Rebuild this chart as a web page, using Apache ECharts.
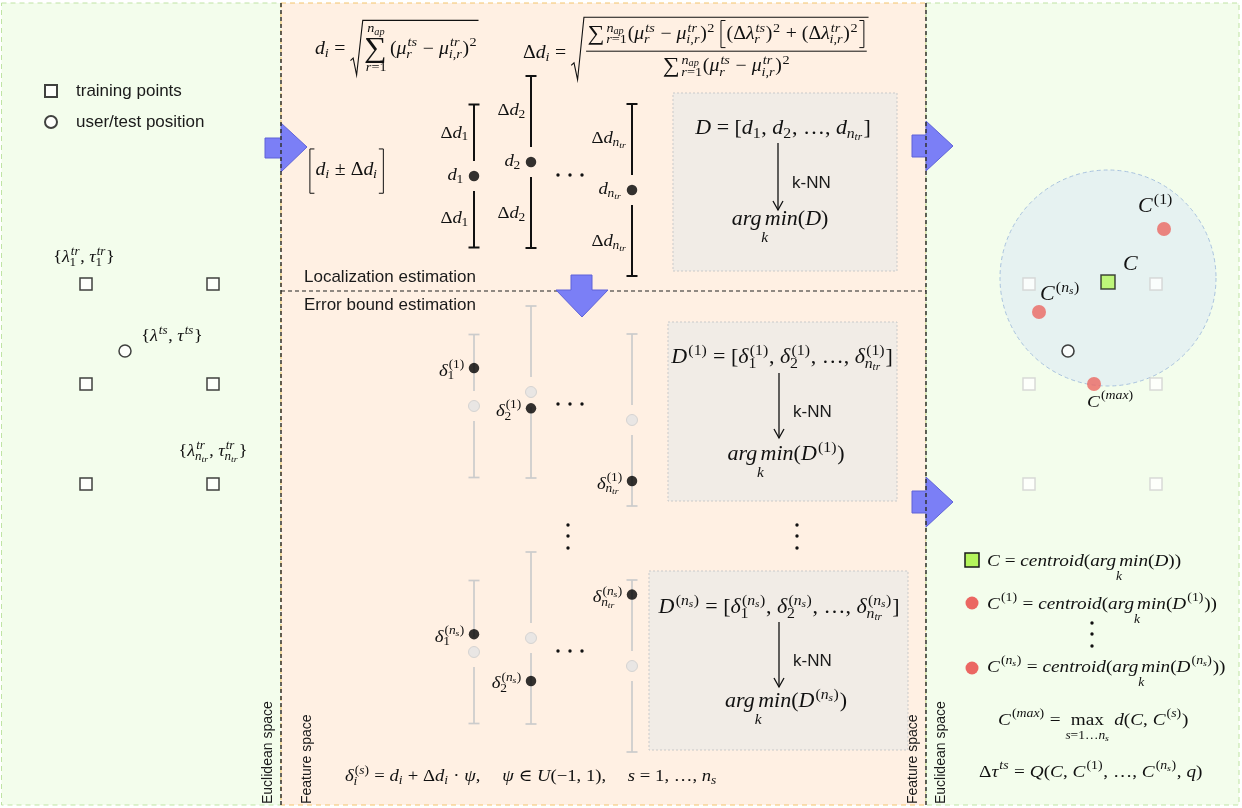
<!DOCTYPE html>
<html><head><meta charset="utf-8">
<script src="https://cdn.jsdelivr.net/npm/echarts@6/dist/echarts.min.js"></script>
<style>html,body{margin:0;padding:0;background:#fff}#c{width:1242px;height:808px}</style>
</head><body><div id="c"></div>
<script>
// ---------------- DATA ----------------
// Euclidean space: training-point grid (columns / rows) and the user/test position
const trainCols = [86, 213];
const trainRows = [284, 384, 484];
const testPoint = [125, 351];
// Feature space: distance d_i and uncertainty Δd_i for i = 1, 2, n_tr
const featureLabels = ['1', '2', 'n_{tr}'];
const featureX = [474, 531, 632];
const distances = [176, 162, 190];
const distErrors = [71.5, 86, 86];
// Error-bound sampling rounds s = 1 and s = n_s with drawn ψ values
const sampleRounds = ['(1)', '(n_s)'];
const roundShift = [230, 476];
const psiRound1 = [-0.53, 0.19, 0.71];
const psiRoundNs = [-0.25, 0.50, -0.83];
// Euclidean space (right): centroid C and sampled centroids C(1), C(ns), C(max)
const euclidShift = 943;
const centroidC = [1108, 282];
const centroidSamples = [[1164, 229], [1039, 312], [1094, 384]];
const boundCenter = [1108, 278];
const boundRadius = 108;

// ---------------- MATH TEXT ENGINE ----------------
const SERIF = "'Liberation Serif', 'DejaVu Serif', serif";
const SANS = "'Liberation Sans', Arial, sans-serif";
const HX = 1.1; // horizontal widening of glyphs
const mctx = document.createElement('canvas').getContext('2d');
const fnt = (s, it) => (it ? 'italic ' : '') + s.toFixed(2) + 'px ' + SERIF;
const mw = (t, s, it) => { mctx.font = fnt(s, it); return mctx.measureText(t).width * HX; };
const isIt = c => /[A-Za-z\u03b1-\u03c9]/.test(c);
const SCR = 0.72;

function parseTex(src) {
  let i = 0;
  function readCmd() {
    i++;
    let name = '';
    while (i < src.length && /[a-zA-Z]/.test(src[i])) name += src[i++];
    if (!name) { const c = src[i++]; if (c === ',') return {type:'space', em:0.17}; return {type:'char', c}; }
    return name;
  }
  function command(name) {
    if (typeof name !== 'string') return name;
    switch (name) {
      case 'frac': return {type:'frac', num: parseArg(), den: parseArg()};
      case 'sqrt': return {type:'sqrt', body: parseArg()};
      case 'rm': return {type:'rm', body: parseArg()};
      case 'under': return {type:'under', base: parseArg(), below: parseArg()};
      case 'br': return {type:'br', body: parseArg(), pad: 0.12};
      case 'Br': return {type:'br', body: parseArg(), pad: 0.75};
      case 'dsum': return {type:'bigop', c:'\u2211', display:true};
      case 'sum': return {type:'bigop', c:'\u2211', display:false};
      case 'q': return {type:'space', em:1};
      default: return {type:'char', c:name};
    }
  }
  function parseArg() {
    while (src[i] === ' ') i++;
    if (src[i] === '{') { i++; return {type:'group', body: parseList()}; }
    if (src[i] === '\\') return command(readCmd());
    return {type:'char', c: src[i++]};
  }
  function parseList() {
    const list = [];
    while (i < src.length) {
      const c = src[i];
      if (c === '}') { i++; break; }
      if (c === '{') { i++; list.push({type:'group', body: parseList()}); continue; }
      if (c === '_' || c === '^') {
        i++;
        const arg = parseArg();
        let last = list[list.length - 1];
        if (!last || last.type !== 'script') {
          const base = list.length ? list.pop() : {type:'group', body:[]};
          last = {type:'script', base, sub:null, sup:null};
          list.push(last);
        }
        if (c === '_') last.sub = arg; else last.sup = arg;
        continue;
      }
      if (c === '\\') { list.push(command(readCmd())); continue; }
      list.push({type:'char', c}); i++;
    }
    return list;
  }
  return {type:'group', body: parseList()};
}
function mv(items, dx, dy) {
  return items.map(o => {
    const c = Object.assign({}, o);
    if (c.t === 'text') { c.x += dx; c.y += dy; }
    else if (c.t === 'line') { c.x1 += dx; c.x2 += dx; c.y1 += dy; c.y2 += dy; }
    else if (c.t === 'poly') { c.pts = c.pts.map(p => [p[0] + dx, p[1] + dy]); }
    return c;
  });
}
function lastItalic(b) { for (let k = b.items.length - 1; k >= 0; k--) if (b.items[k].t === 'text') return b.items[k].it; return false; }
function layList(nodes, S, rm) {
  let x = 0, up = 0.42 * S, dn = 0.42 * S; const items = [];
  let run = '', runIt = false;
  const flush = () => { if (!run) return; items.push({t:'text', x, y:0, s:run, size:S, it:runIt}); x += mw(run, S, runIt); run = ''; };
  for (const n of nodes) {
    if (n.type === 'char') { const it = !rm && isIt(n.c); if (run && it !== runIt) flush(); runIt = it; run += n.c; continue; }
    flush();
    const b = lay(n, S, rm);
    items.push(...mv(b.items, x, 0)); x += b.w; up = Math.max(up, b.up); dn = Math.max(dn, b.dn);
  }
  flush();
  return {w:x, up, dn, items};
}
function layScript(n, S, rm) {
  const ss = Math.max(SCR * S, 9);
  const base = lay(n.base, S, rm);
  const sup = n.sup ? lay(n.sup, ss, rm) : null;
  const sub = n.sub ? lay(n.sub, ss, rm) : null;
  let items = base.items.slice(), up = base.up, dn = base.dn;
  if (n.base.type === 'bigop' && n.base.display) {
    const W = Math.max(base.w, sup ? sup.w : 0, sub ? sub.w : 0);
    items = mv(base.items, (W - base.w) / 2, 0);
    if (sup) { const y = -(base.up + 0.08 * S + sup.dn); items.push(...mv(sup.items, (W - sup.w) / 2, y)); up = -y + sup.up; }
    if (sub) { const y = base.dn + 0.08 * S + sub.up; items.push(...mv(sub.items, (W - sub.w) / 2, y)); dn = y + sub.dn; }
    return {w: W + 0.1 * S, up, dn, items};
  }
  const li = lastItalic(base);
  let ext = base.w;
  if (sup) {
    const supY = -Math.max(0.36 * S, base.up - 0.22 * ss);
    const sx = base.w + (li ? 0.06 * S : 0.03 * S);
    items.push(...mv(sup.items, sx, supY)); ext = Math.max(ext, sx + sup.w); up = Math.max(up, -supY + sup.up);
  }
  if (sub) {
    let subY = Math.max(0.22 * S, base.dn - 0.25 * ss); if (sup) subY = Math.max(subY, 0.3 * S);
    const sx = base.w + (li ? -0.01 * S : 0.02 * S);
    items.push(...mv(sub.items, sx, subY)); ext = Math.max(ext, sx + sub.w); dn = Math.max(dn, subY + sub.dn);
  }
  return {w: ext + 0.04 * S, up, dn, items};
}
function lay(n, S, rm) {
  switch (n.type) {
    case 'group': return layList(n.body, S, rm);
    case 'char': return layList([n], S, rm);
    case 'rm': return lay(n.body, S, true);
    case 'space': return {w: n.em * S, up: 0, dn: 0, items: []};
    case 'bigop': {
      const B = n.display ? 1.6 * S : 1.2 * S;
      return {w: mw(n.c, B, false) + 0.08 * S, up: 0.4 * B, dn: 0.4 * B, items: [{t:'text', x:0, y:0, s:n.c, size:B, it:false}]};
    }
    case 'script': return layScript(n, S, rm);
    case 'frac': {
      const a = lay(n.num, S, rm), b = lay(n.den, S, rm);
      const W = Math.max(a.w, b.w) + 0.24 * S, ax = -0.1 * S, g = 0.2 * S;
      const ny = ax - g - a.dn, dy = ax + g + b.up;
      return {w: W, up: -ny + a.up, dn: dy + b.dn, items: [...mv(a.items, (W - a.w) / 2, ny), ...mv(b.items, (W - b.w) / 2, dy),
        {t:'line', x1: 0.04 * S, y1: ax, x2: W - 0.04 * S, y2: ax, w: 1}]};
    }
    case 'sqrt': {
      const b = lay(n.body, S, rm);
      const top = -(b.up + 0.18 * S), bot = b.dn + 0.12 * S, H = bot - top;
      const sw = 0.5 * S + 0.06 * H;
      const ty = bot - Math.min(0.3 * H, 0.9 * S);
      const ex = sw + 0.08 * S + b.w + 0.06 * S;
      return {w: ex + 0.08 * S, up: -top + 1, dn: bot, items: [
        {t:'poly', pts:[[0, ty + 0.1 * S], [0.22 * sw, ty - 0.04 * S], [0.5 * sw, bot], [sw, top], [ex, top]], w: 1.1},
        ...mv(b.items, sw + 0.08 * S, 0)]};
    }
    case 'br': {
      const b = lay(n.body, S, rm);
      const p = n.pad * S, top = -(b.up + p), bot = b.dn + p, bw = 0.25 * S;
      const lx = 0.05 * S, bx = lx + bw + 0.06 * S, rx = bx + b.w + 0.06 * S + bw;
      return {w: rx + 0.08 * S, up: -top, dn: bot, items: [
        {t:'poly', pts:[[lx + bw, top], [lx, top], [lx, bot], [lx + bw, bot]], w: 1},
        ...mv(b.items, bx, 0),
        {t:'poly', pts:[[rx - bw, top], [rx, top], [rx, bot], [rx - bw, bot]], w: 1}]};
    }
    case 'under': {
      const a = lay(n.base, S, rm), k = lay(n.below, Math.max(0.7 * S, 8), rm);
      const W = Math.max(a.w, k.w);
      const ky = 0.42 * S + 0.2 * S + k.up;
      return {w: W, up: a.up, dn: ky + k.dn, items: [...mv(a.items, (W - a.w) / 2, 0), ...mv(k.items, (W - k.w) / 2, ky)]};
    }
  }
  return {w:0, up:0, dn:0, items:[]};
}
const G = [];
function tex(src, x, y, S, align, color) {
  color = color || '#111';
  const box = lay(parseTex(src), S, false);
  const x0 = align === 'center' ? x - box.w / 2 : align === 'right' ? x - box.w : x;
  for (const o of box.items) {
    if (o.t === 'text') G.push({type:'text', x: x0 + o.x, y: y + o.y, scaleX: HX, z: 50, silent: true,
      style: {text: o.s, font: fnt(o.size, o.it), fill: color, align: 'left', verticalAlign: 'middle'}});
    else if (o.t === 'line') G.push({type:'line', z: 50, silent: true, shape: {x1: x0 + o.x1, y1: y + o.y1, x2: x0 + o.x2, y2: y + o.y2}, style: {stroke: color, lineWidth: o.w}});
    else G.push({type:'polyline', z: 50, silent: true, shape: {points: o.pts.map(p => [x0 + p[0], y + p[1]])}, style: {stroke: color, fill: 'none', lineWidth: o.w}});
  }
  return box;
}
function sans(text, x, y, size, opt) {
  opt = opt || {};
  G.push({type:'text', x, y, z: 50, silent: true, rotation: opt.rot || 0,
    style: {text, font: size + 'px ' + SANS, fill: '#1a1a1a', align: opt.align || 'left', verticalAlign: 'middle'}});
}

// ---------------- SERIES DATA ----------------
const leftTrain = [];
trainRows.forEach(y => trainCols.forEach(x => leftTrain.push([x, y])));
const rightTrain = leftTrain.map(p => [p[0] + euclidShift, p[1]]);
const rightTest = [[testPoint[0] + euclidShift, testPoint[1]]];
const psiRounds = [psiRound1, psiRoundNs];
const barData = [], grayCenters = [], blackDots = [];
featureX.forEach((x, i) => { barData.push([x, distances[i], distErrors[i], 0]); blackDots.push([x, distances[i]]); });
roundShift.forEach((sh, r) => featureX.forEach((x, i) => {
  const c = distances[i] + sh;
  barData.push([x, c, distErrors[i], 1]);
  grayCenters.push([x, c]);
  blackDots.push([x, c + distErrors[i] * psiRounds[r][i]]);
}));

const chart = echarts.init(document.getElementById('c'), null, {renderer: 'canvas'});
const noHover = {emphasis: {disabled: true}, silent: true};
chart.setOption({
  animation: false,
  grid: {left: 0, right: 0, top: 0, bottom: 0},
  xAxis: {type: 'value', min: 0, max: 1242, show: false},
  yAxis: {type: 'value', min: 0, max: 808, inverse: true, show: false},
  legend: {data: ['training points', 'user/test position'], orient: 'vertical', left: 44, top: 81, padding: 0,
    itemWidth: 12, itemHeight: 12, itemGap: 11, selectedMode: false,
    textStyle: {fontFamily: SANS, fontSize: 17, color: '#1a1a1a', lineHeight: 20, padding: [0, 0, 0, 14]}},
  series: [
    Object.assign({type: 'custom', name: 'bound', z: 3, clip: false, data: [[boundCenter[0], boundCenter[1], boundRadius]],
      encode: {x: 0, y: 1},
      renderItem: (params, api) => {
        const p = api.coord([api.value(0), api.value(1)]);
        const r = api.size([api.value(2), 0])[0];
        return {type: 'circle', shape: {cx: p[0], cy: p[1], r}, style: {fill: '#e6f2f1', stroke: '#a9c3df', lineWidth: 1, lineDash: [4, 3]}};
      }}, noHover),
    Object.assign({type: 'custom', name: 'error bars', z: 3, clip: false, data: barData, encode: {x: 0, y: 1},
      renderItem: (params, api) => {
        const x = api.value(0), c = api.value(1), h = api.value(2), kind = api.value(3);
        const pc = api.coord([x, c]), pt = api.coord([x, c - h]), pb = api.coord([x, c + h]);
        const style = {stroke: kind ? '#cccccc' : '#111111', lineWidth: kind ? 1.7 : 2, fill: null};
        const cw = 5.5, gap = 15;
        return {type: 'group', children: [
          {type: 'line', shape: {x1: pc[0], y1: pt[1], x2: pc[0], y2: pc[1] - gap}, style},
          {type: 'line', shape: {x1: pc[0], y1: pc[1] + gap, x2: pc[0], y2: pb[1]}, style},
          {type: 'line', shape: {x1: pc[0] - cw, y1: pt[1], x2: pc[0] + cw, y2: pt[1]}, style},
          {type: 'line', shape: {x1: pc[0] - cw, y1: pb[1], x2: pc[0] + cw, y2: pb[1]}, style}]};
      }}, noHover),
    Object.assign({type: 'scatter', name: 'training points', z: 4, data: leftTrain, symbol: 'rect', symbolSize: 12,
      itemStyle: {color: '#ffffff', borderColor: '#111111', borderWidth: 1.5}}, noHover),
    Object.assign({type: 'scatter', name: 'user/test position', z: 4, data: [testPoint], symbol: 'circle', symbolSize: 12,
      itemStyle: {color: '#ffffff', borderColor: '#111111', borderWidth: 1.5}}, noHover),
    Object.assign({type: 'scatter', name: 'training (euclidean)', z: 4, data: rightTrain, symbol: 'rect', symbolSize: 12,
      itemStyle: {color: '#ffffff', borderColor: '#d0d0d0', borderWidth: 1.5}}, noHover),
    Object.assign({type: 'scatter', name: 'test (euclidean)', z: 4, data: rightTest, symbol: 'circle', symbolSize: 12,
      itemStyle: {color: '#ffffff', borderColor: '#111111', borderWidth: 1.6}}, noHover),
    Object.assign({type: 'scatter', name: 'd_i centres', z: 4, data: grayCenters, symbol: 'circle', symbolSize: 11,
      itemStyle: {color: '#e3e3e3', borderColor: '#cdcdcd', borderWidth: 1}}, noHover),
    Object.assign({type: 'scatter', name: 'samples', z: 5, data: blackDots, symbol: 'circle', symbolSize: 10.5,
      itemStyle: {color: '#000000'}}, noHover),
    Object.assign({type: 'scatter', name: 'C', z: 5, data: [centroidC], symbol: 'rect', symbolSize: 14,
      itemStyle: {color: '#b4f55c', borderColor: '#1a1a1a', borderWidth: 1.5}}, noHover),
    Object.assign({type: 'scatter', name: 'C(s)', z: 5, data: centroidSamples, symbol: 'circle', symbolSize: 14,
      itemStyle: {color: '#eb6762'}}, noHover)
  ]
});

// ---------------- LAYOUT GRAPHICS ----------------
const px = p => chart.convertToPixel({gridIndex: 0}, p);
const GREEN = '#f3fdec', PEACH = '#fff0e3';
G.push(
  {type: 'rect', z: 0, silent: true, shape: {x: 1.5, y: 3, width: 279.5, height: 802}, style: {fill: GREEN, stroke: '#bfe3a4', lineWidth: 1, lineDash: [5, 4]}},
  {type: 'rect', z: 0, silent: true, shape: {x: 281, y: 3, width: 645, height: 802}, style: {fill: PEACH, stroke: '#f4c46c', lineWidth: 1, lineDash: [5, 4]}},
  {type: 'rect', z: 0, silent: true, shape: {x: 926, y: 3, width: 313, height: 802}, style: {fill: GREEN, stroke: '#bfe3a4', lineWidth: 1, lineDash: [5, 4]}},
  {type: 'rect', z: 1, silent: true, shape: {x: 673, y: 93, width: 224, height: 178}, style: {fill: '#f1ece6', stroke: '#c9c9c9', lineWidth: 1, lineDash: [2, 2]}},
  {type: 'rect', z: 1, silent: true, shape: {x: 668, y: 322, width: 229, height: 179}, style: {fill: '#f1ece6', stroke: '#c9c9c9', lineWidth: 1, lineDash: [2, 2]}},
  {type: 'rect', z: 1, silent: true, shape: {x: 649, y: 571, width: 259, height: 179}, style: {fill: '#f1ece6', stroke: '#c9c9c9', lineWidth: 1, lineDash: [2, 2]}}
);
const arrowStyle = {fill: '#7b7ff6', stroke: '#5f63d8', lineWidth: 1};
[[[265,138],[281,138],[281,123],[307,147],[281,172],[281,158],[265,158]],
 [[912,135],[926,135],[926,121],[953,146],[926,171],[926,157],[912,157]],
 [[912,491],[926,491],[926,477],[953,502],[926,527],[926,513],[912,513]]].forEach(pts =>
  G.push({type: 'polygon', z: 6, silent: true, shape: {points: pts}, style: arrowStyle}));
[[281, 3, 281, 805], [926, 3, 926, 805]].forEach(l =>
  G.push({type: 'line', z: 7, silent: true, shape: {x1: l[0], y1: l[1], x2: l[2], y2: l[3]}, style: {stroke: '#333', lineWidth: 1.5, lineDash: [4, 3]}}));
G.push({type: 'line', z: 7, silent: true, shape: {x1: 281, y1: 291, x2: 926, y2: 291}, style: {stroke: '#222', lineWidth: 1.2, lineDash: [4, 3]}});
G.push({type: 'polygon', z: 8, silent: true, shape: {points: [[571,275],[592,275],[592,290],[608,290],[582,317],[556,290],[571,290]]}, style: arrowStyle});

// k-NN arrows
[[778, 143, 210], [779, 373, 438], [779, 622, 687]].forEach(a => {
  G.push({type: 'line', z: 50, silent: true, shape: {x1: a[0], y1: a[1], x2: a[0], y2: a[2]}, style: {stroke: '#111', lineWidth: 1.3}});
  G.push({type: 'polyline', z: 50, silent: true, shape: {points: [[a[0] - 5, a[2] - 9], [a[0], a[2]], [a[0] + 5, a[2] - 9]]}, style: {stroke: '#111', fill: 'none', lineWidth: 1.3}});
  sans('k-NN', a[0] + 14, (a[1] + a[2]) / 2 + 7, 17);
});
// ellipsis dots
const dot = (x, y) => G.push({type: 'circle', z: 50, silent: true, shape: {cx: x, cy: y, r: 1.7}, style: {fill: '#111'}});
[175, 404, 651].forEach(y => [558, 570, 582].forEach(x => dot(x, y)));
[525, 536, 548].forEach(y => { dot(568, y); dot(797, y); dot(1092, y + 98); });

// section texts
sans('Localization estimation', 304, 277, 17);
sans('Error bound estimation', 304, 305, 17);
sans('Euclidean space', 268, 804, 14, {rot: Math.PI / 2});
sans('Feature space', 307, 804, 14, {rot: Math.PI / 2});
sans('Feature space', 913, 804, 14, {rot: Math.PI / 2});
sans('Euclidean space', 941, 804, 14, {rot: Math.PI / 2});

// formulas (top)
tex(String.raw`d_i = \sqrt{\dsum_{r=1}^{n_{ap}}(μ_r^{ts} − μ_{i,r}^{tr})^2}`, 315, 49, 18, 'left');
tex(String.raw`Δd_i = \sqrt{\frac{\sum_{r=1}^{n_{ap}}(μ_r^{ts} − μ_{i,r}^{tr})^2 \br{(Δλ_r^{ts})^2 + (Δλ_{i,r}^{tr})^2}}{\sum_{r=1}^{n_{ap}}(μ_r^{ts} − μ_{i,r}^{tr})^2}}`, 523, 53, 18, 'left');
tex(String.raw`\Br{d_i ± Δd_i}`, 309, 170, 18, 'left');

// error-bar labels from the data
const LS = 17;
featureX.forEach((x, i) => {
  const d = distances[i], h = distErrors[i], lab = featureLabels[i];
  const pd = px([x, d]), pu = px([x, d - 0.6 * h]), pl = px([x, d + 0.6 * h]);
  tex('d_{' + lab + '}', pd[0] - 10, pd[1], LS, 'right');
  tex('Δd_{' + lab + '}', pu[0] - 5, pu[1], LS, 'right');
  tex('Δd_{' + lab + '}', pl[0] - 5, pl[1], LS, 'right');
  roundShift.forEach((sh, r) => {
    const p = px([x, d + sh + h * psiRounds[r][i]]);
    tex('δ_{' + lab + '}^{' + sampleRounds[r] + '}', p[0] - 9, p[1] + 3, LS, 'right');
  });
});

// boxes
const BS = 20;
tex(String.raw`D = [d_1, d_2, …, d_{n_{tr}}]`, 783, 129, BS, 'center');
tex(String.raw`\under{arg\,min}{k}(D)`, 780, 220, BS, 'center');
tex(String.raw`D^{(1)} = [δ_1^{(1)}, δ_2^{(1)}, …, δ_{n_{tr}}^{(1)}]`, 782, 358, BS, 'center');
tex(String.raw`\under{arg\,min}{k}(D^{(1)})`, 786, 455, BS, 'center');
tex(String.raw`D^{(n_s)} = [δ_1^{(n_s)}, δ_2^{(n_s)}, …, δ_{n_{tr}}^{(n_s)}]`, 779, 608, BS, 'center');
tex(String.raw`\under{arg\,min}{k}(D^{(n_s)})`, 786, 702, BS, 'center');
tex(String.raw`δ_i^{(s)} = d_i + Δd_i · ψ,\q ψ ∈ U(−1, 1),\q s = 1, …, n_s`, 345, 777, 17, 'left');

// left panel labels (relative to the points)
const pTr1 = px([trainCols[0], trainRows[0]]), pTrN = px([trainCols[1], trainRows[2]]), pTs = px(testPoint);
tex(String.raw`\{λ_1^{tr}, τ_1^{tr}\}`, pTr1[0] - 2, pTr1[1] - 26, 16.5, 'center');
tex(String.raw`\{λ^{ts}, τ^{ts}\}`, pTs[0] + 47, pTs[1] - 14, 16.5, 'center');
tex(String.raw`\{λ_{n_{tr}}^{tr}, τ_{n_{tr}}^{tr}\}`, pTrN[0], pTrN[1] - 32, 16.5, 'center');

// right panel labels
const pC = px(centroidC), pC1 = px(centroidSamples[0]), pCn = px(centroidSamples[1]), pCm = px(centroidSamples[2]);
tex('C^{(1)}', pC1[0] - 26, pC1[1] - 22, 20, 'left');
tex('C', pC[0] + 15, pC[1] - 17, 20, 'left');
tex('C^{(n_s)}', pCn[0] + 1, pCn[1] - 17, 20, 'left');
tex('C^{(max)}', pCm[0] - 7, pCm[1] + 18, 17.5, 'left');

// right legend
const RS = 17.5;
G.push({type: 'rect', z: 50, silent: true, shape: {x: 965, y: 553, width: 14, height: 14}, style: {fill: '#b4f55c', stroke: '#1a1a1a', lineWidth: 1.5}});
G.push({type: 'circle', z: 50, silent: true, shape: {cx: 972, cy: 603, r: 6.5}, style: {fill: '#eb6762'}});
G.push({type: 'circle', z: 50, silent: true, shape: {cx: 972, cy: 668, r: 6.5}, style: {fill: '#eb6762'}});
tex(String.raw`C = centroid(\under{arg\,min}{k}(D))`, 987, 561, RS, 'left');
tex(String.raw`C^{(1)} = centroid(\under{arg\,min}{k}(D^{(1)}))`, 987, 604, RS, 'left');
tex(String.raw`C^{(n_s)} = centroid(\under{arg\,min}{k}(D^{(n_s)}))`, 987, 667, RS, 'left');
tex(String.raw`C^{(max)} = \under{\rm{max}}{s=1…n_s} d(C, C^{(s)})`, 998, 720, RS, 'left');
tex(String.raw`Δτ^{ts} = Q(C, C^{(1)}, …, C^{(n_s)}, q)`, 979, 772, RS, 'left');

chart.setOption({graphic: {elements: G}});
</script>
</body></html>
